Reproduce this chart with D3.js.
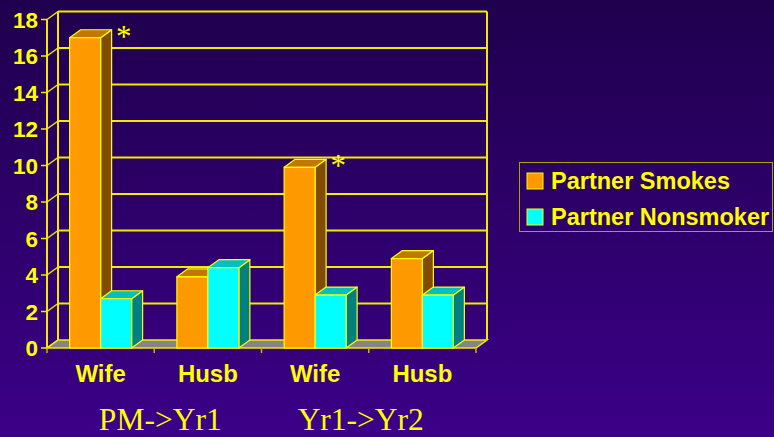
<!DOCTYPE html>
<html>
<head>
<meta charset="utf-8">
<script src="https://cdn.jsdelivr.net/npm/d3@7"></script>
<style>
  html, body { margin: 0; padding: 0; background: #2c0068; }
  svg { display: block; }
  .tick-label, .cat-label, .legend-label { font-family: "Liberation Sans", Arial, sans-serif; font-weight: bold; fill: #ffff00; }
  .period-label, .star { font-family: "Liberation Serif", "Times New Roman", serif; fill: #ffff00; }
</style>
</head>
<body>
<svg id="chart" width="774" height="437"></svg>
<script>
// data
const categories = ['Wife', 'Husb', 'Wife', 'Husb']
const series = ['Partner Smokes', 'Partner Nonsmoker']
const smokesValues = [17, 3.9, 9.9, 4.9]
const nonsmokerValues = [2.7, 4.4, 2.9, 2.9]
const yTicks = [0, 2, 4, 6, 8, 10, 12, 14, 16, 18]
const periods = ['PM->Yr1', 'Yr1->Yr2']
const starred = [0, 2] // category index of orange bars marked with *

const width = 774
const height = 437
// 3d depth offset of the chart box
const depth = { dx: 11, dy: 8 }

// face colours: front, top, side
const palette = {
  'Partner Smokes': { front: '#ff9900', top: '#c07800', side: '#804d00' },
  'Partner Nonsmoker': { front: '#00ffff', top: '#00c0c0', side: '#008080' }
}
const lineColor = '#f2ea00'

const svg = d3.select('#chart')

const defs = svg.append('defs')
const grad = defs.append('linearGradient')
  .attr('id', 'bg')
  .attr('x1', 0).attr('y1', 0).attr('x2', 0).attr('y2', 1)
grad.append('stop').attr('offset', '0%').attr('stop-color', '#1f004d')
grad.append('stop').attr('offset', '100%').attr('stop-color', '#3b0087')

svg.append('rect')
  .attr('width', width)
  .attr('height', height)
  .attr('fill', 'url(#bg)')

const x = d3.scaleBand()
  .domain(d3.range(categories.length))
  .range([47, 476])
  .paddingInner(0)
  .paddingOuter(0)

const xInner = d3.scaleBand()
  .domain(series)
  .range([0, x.bandwidth()])
  .paddingInner(0)
  .paddingOuter(0.73)

const y = d3.scaleLinear()
  .domain([0, 18])
  .range([348, 19.5])

const x0 = x.range()[0]
const x1 = x.range()[1]
const yBase = y(0)
const yTop = y(18)

const pts = (arr) => arr.map((p) => p.join(',')).join(' ')

// floor
svg.append('polygon')
  .attr('points', pts([
    [x0, yBase], [x1, yBase],
    [x1 + depth.dx, yBase - depth.dy], [x0 + depth.dx, yBase - depth.dy]
  ]))
  .attr('fill', '#858585')
  .attr('stroke', lineColor)
  .attr('stroke-width', 1.5)

// back wall gridlines + left wall diagonals
const grid = svg.append('g').attr('class', 'grid')
grid.selectAll('line.back')
  .data(yTicks.filter((d) => d > 0))
  .join('line')
  .attr('class', 'back')
  .attr('x1', x0 + depth.dx)
  .attr('x2', x1 + depth.dx)
  .attr('y1', (d) => y(d) - depth.dy)
  .attr('y2', (d) => y(d) - depth.dy)
  .attr('stroke', lineColor)
  .attr('stroke-width', 2)

grid.selectAll('line.side')
  .data(yTicks)
  .join('line')
  .attr('class', 'side')
  .attr('x1', x0)
  .attr('x2', x0 + depth.dx)
  .attr('y1', (d) => y(d))
  .attr('y2', (d) => y(d) - depth.dy)
  .attr('stroke', lineColor)
  .attr('stroke-width', 1.5)

// box edges
const edges = [
  [[x0, yBase], [x0, yTop]],
  [[x0 + depth.dx, yBase - depth.dy], [x0 + depth.dx, yTop - depth.dy]],
  [[x1 + depth.dx, yBase - depth.dy], [x1 + depth.dx, yTop - depth.dy]]
]
grid.selectAll('line.edge')
  .data(edges)
  .join('line')
  .attr('class', 'edge')
  .attr('x1', (d) => d[0][0])
  .attr('y1', (d) => d[0][1])
  .attr('x2', (d) => d[1][0])
  .attr('y2', (d) => d[1][1])
  .attr('stroke', lineColor)
  .attr('stroke-width', 2)

// y ticks + labels
const yAxis = svg.append('g').attr('class', 'y-axis')
yAxis.selectAll('line')
  .data(yTicks)
  .join('line')
  .attr('x1', x0 - 6)
  .attr('x2', x0)
  .attr('y1', (d) => y(d))
  .attr('y2', (d) => y(d))
  .attr('stroke', lineColor)
  .attr('stroke-width', 1.5)

yAxis.selectAll('text')
  .data(yTicks)
  .join('text')
  .attr('class', 'tick-label')
  .attr('x', 38)
  .attr('y', (d) => y(d))
  .attr('dy', '0.36em')
  .attr('text-anchor', 'end')
  .attr('font-size', 22.5)
  .text((d) => d)

// category ticks below floor
svg.append('g')
  .selectAll('line')
  .data(d3.range(categories.length + 1))
  .join('line')
  .attr('x1', (i) => x0 + i * x.bandwidth())
  .attr('x2', (i) => x0 + i * x.bandwidth())
  .attr('y1', yBase)
  .attr('y2', yBase + 5)
  .attr('stroke', '#c8b400')
  .attr('stroke-width', 1.5)

// bars
const bars = []
categories.forEach((c, i) => {
  bars.push({ cat: i, key: series[0], value: smokesValues[i] })
  bars.push({ cat: i, key: series[1], value: nonsmokerValues[i] })
})

function barShape(g) {
  g.each(function (d) {
    const el = d3.select(this)
    const bx = x(d.cat) + xInner(d.key)
    const bw = xInner.bandwidth()
    const by = y(d.value)
    const c = palette[d.key]

    // side
    el.append('polygon')
      .attr('points', pts([
        [bx + bw, by], [bx + bw + depth.dx, by - depth.dy],
        [bx + bw + depth.dx, yBase - depth.dy], [bx + bw, yBase]
      ]))
      .attr('fill', c.side)
    // top
    el.append('polygon')
      .attr('points', pts([
        [bx, by], [bx + depth.dx, by - depth.dy],
        [bx + bw + depth.dx, by - depth.dy], [bx + bw, by]
      ]))
      .attr('fill', c.top)
    // front
    el.append('rect')
      .attr('x', bx)
      .attr('y', by)
      .attr('width', bw)
      .attr('height', yBase - by)
      .attr('fill', c.front)
  })
  g.selectAll('polygon, rect')
    .attr('stroke', '#ffff00')
    .attr('stroke-width', 1.2)
    .attr('stroke-linejoin', 'round')
}

svg.append('g')
  .attr('class', 'bars')
  .selectAll('g')
  .data(bars)
  .join('g')
  .call(barShape)

// significance marks
svg.append('g')
  .selectAll('text')
  .data(starred)
  .join('text')
  .attr('class', 'star')
  .attr('x', (i) => x(i) + xInner(series[0]) + xInner.bandwidth() + depth.dx + 12)
  .attr('y', (i) => y(smokesValues[i]) - depth.dy + 17)
  .attr('text-anchor', 'middle')
  .attr('font-size', 31)
  .text('*')

// category labels
svg.append('g')
  .selectAll('text')
  .data(categories)
  .join('text')
  .attr('class', 'cat-label')
  .attr('x', (d, i) => x(i) + x.bandwidth() / 2)
  .attr('y', 382)
  .attr('text-anchor', 'middle')
  .attr('font-size', 24)
  .text((d) => d)

// period labels under each pair
const periodShift = [6, -8]
svg.append('g')
  .selectAll('text')
  .data(periods)
  .join('text')
  .attr('class', 'period-label')
  .attr('x', (d, i) => x(i * 2 + 1) + periodShift[i])
  .attr('y', 430)
  .attr('text-anchor', 'middle')
  .attr('font-size', 31.5)
  .text((d) => d)

// legend
const legend = svg.append('g').attr('class', 'legend')
legend.append('rect')
  .attr('x', 519.5)
  .attr('y', 162.5)
  .attr('width', 253)
  .attr('height', 69)
  .attr('fill', 'none')
  .attr('stroke', '#b0a000')
  .attr('stroke-width', 1)

const item = legend.selectAll('g')
  .data(series)
  .join('g')
  .attr('transform', (d, i) => `translate(527, ${173 + i * 36})`)

item.append('rect')
  .attr('width', 16)
  .attr('height', 16)
  .attr('fill', (d) => palette[d].front)
  .attr('stroke', '#ffff00')
  .attr('stroke-width', 1)

item.append('text')
  .attr('class', 'legend-label')
  .attr('x', 24)
  .attr('y', 16)
  .attr('font-size', 23.5)
  .text((d) => d)
</script>
</body>
</html>
